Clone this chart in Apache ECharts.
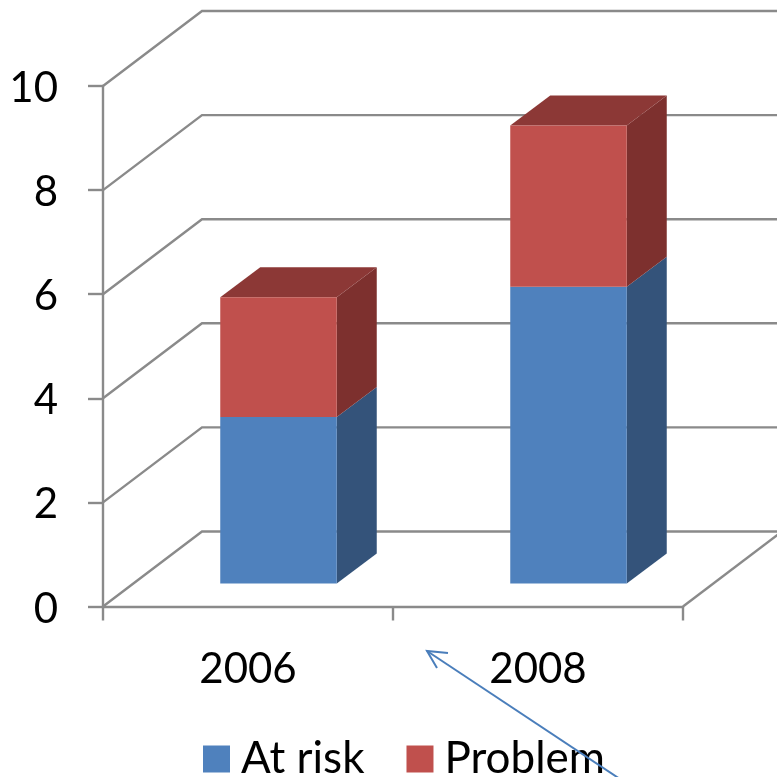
<!DOCTYPE html>
<html>
<head>
<meta charset="utf-8">
<style>html,body{margin:0;padding:0;background:#fff}#c{width:777px;height:777px}</style>
<script src="https://cdn.jsdelivr.net/npm/echarts@6/dist/echarts.min.js"></script>
</head>
<body>
<div id="c"></div>
<script>
var categories = ['2006', '2008'];
var atRisk = [3.2, 5.7];
var problem = [2.3, 3.1];
var yTicks = [0, 2, 4, 6, 8, 10];

var FONT = 'Lato';
var GRID = '#8a8a8a';
var WALL_DX = 99, WALL_DY = -75;
var BAR_SHIFT_X = 30.5, BAR_SHIFT_Y = -23;
var BAR_DX = 40, BAR_DY = -30;
var BAR_W = 116.5;

function wallItem(params, api) {
  var v = api.value(0);
  var half = api.size([1, 0])[0] / 2;
  var p = api.coord([0, v]);
  var x0 = p[0] - half, y0 = p[1];
  var children = [{
    type: 'polyline',
    shape: { points: [[x0, y0], [x0 + WALL_DX, y0 + WALL_DY], [api.getWidth() + 5, y0 + WALL_DY]] },
    style: { stroke: GRID, lineWidth: 2.4, fill: 'none' }
  }];
  if (v === 0) {
    var xr = api.coord([categories.length - 1, 0])[0] + half;
    children.push({
      type: 'line',
      shape: { x1: xr, y1: y0, x2: xr + WALL_DX, y2: y0 + WALL_DY },
      style: { stroke: GRID, lineWidth: 2.4 }
    });
  }
  return { type: 'group', children: children };
}

function barRenderer(front, side, top) {
  return function (params, api) {
    var idx = api.value(0);
    var a = api.coord([idx, api.value(1)]);
    var b = api.coord([idx, api.value(2)]);
    var xl = a[0] + BAR_SHIFT_X - BAR_W / 2, xr = xl + BAR_W;
    var yb = a[1] + BAR_SHIFT_Y, yt = b[1] + BAR_SHIFT_Y;
    var kids = [
      { type: 'polygon', shape: { points: [[xr, yb], [xr + BAR_DX, yb + BAR_DY], [xr + BAR_DX, yt + BAR_DY], [xr, yt]] }, style: { fill: side } }
    ];
    if (top) {
      kids.push({ type: 'polygon', shape: { points: [[xl, yt], [xl + BAR_DX, yt + BAR_DY], [xr + BAR_DX, yt + BAR_DY], [xr, yt]] }, style: { fill: top } });
    }
    kids.push({ type: 'rect', shape: { x: xl, y: yt, width: BAR_W, height: yb - yt }, style: { fill: front } });
    return { type: 'group', children: kids };
  };
}

var riskData = categories.map(function (c, i) { return [i, 0, atRisk[i]]; });
var problemData = categories.map(function (c, i) { return [i, atRisk[i], atRisk[i] + problem[i]]; });

var chart = echarts.init(document.getElementById('c'), null, { renderer: 'canvas' });
chart.setOption({
  animation: false,
  backgroundColor: '#fff',
  textStyle: { fontFamily: FONT },
  grid: { left: 103, right: 94, top: 86, bottom: 170.5 },
  legend: {
    left: 203, top: 737, padding: 0, itemWidth: 27, itemHeight: 27, itemGap: 42,
    icon: 'rect', data: ['At risk', 'Problem'],
    textStyle: { fontFamily: FONT, fontSize: 44, lineHeight: 27, color: '#000', padding: [0, 0, 0, 6] }
  },
  xAxis: {
    type: 'category', data: categories,
    axisLine: { lineStyle: { color: GRID, width: 2.4 } },
    axisTick: { show: true, alignWithLabel: false, length: 14, lineStyle: { color: GRID, width: 2.4 } },
    axisLabel: { margin: 42, fontFamily: FONT, fontSize: 42, color: '#000' },
    splitLine: { show: false }
  },
  yAxis: {
    type: 'value', min: 0, max: 10, interval: 2,
    axisLine: { show: true, lineStyle: { color: GRID, width: 2.4 } },
    axisTick: { show: true, length: 15, lineStyle: { color: GRID, width: 2.4 } },
    axisLabel: { margin: 45, fontFamily: FONT, fontSize: 42, color: '#000', verticalAlign: 'top', lineHeight: 5 },
    splitLine: { show: false }
  },
  series: [
    { type: 'custom', name: 'walls', coordinateSystem: 'cartesian2d', data: yTicks.map(function (t) { return [t]; }), renderItem: wallItem, encode: { y: 0 }, silent: true, z: 1 },
    { type: 'custom', name: 'At risk', coordinateSystem: 'cartesian2d', data: riskData, itemStyle: { color: '#4F81BD' }, renderItem: barRenderer('#4F81BD', '#34537A', null), encode: { x: 0, y: [1, 2] }, z: 2 },
    { type: 'custom', name: 'Problem', coordinateSystem: 'cartesian2d', data: problemData, itemStyle: { color: '#C0504D' }, renderItem: barRenderer('#C0504D', '#7D302E', '#8C3836'), encode: { x: 0, y: [1, 2] }, z: 3 }
  ],
  graphic: [
    { type: 'polyline', z: 100, shape: { points: [[632, 787], [427, 651]] }, style: { stroke: '#4A7EBB', lineWidth: 2, fill: 'none' } },
    { type: 'polyline', z: 100, shape: { points: [[448, 653], [427, 651], [437, 668]] }, style: { stroke: '#4A7EBB', lineWidth: 2, fill: 'none' } }
  ]
});
</script>
</body>
</html>
